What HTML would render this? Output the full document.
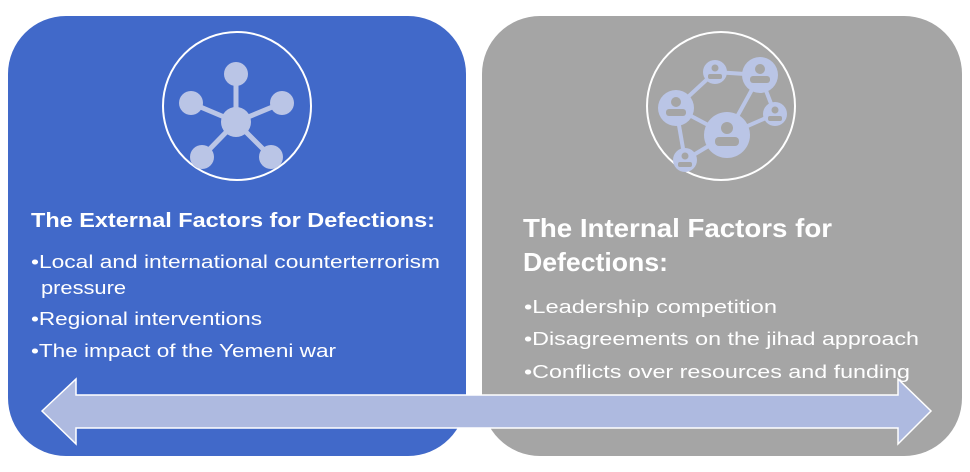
<!DOCTYPE html>
<html><head><style>body{margin:0;background:#fff}svg{display:block}</style></head><body>
<svg width="970" height="472" viewBox="0 0 970 472" xmlns="http://www.w3.org/2000/svg" font-family="Liberation Sans, sans-serif">
<rect x="8" y="16" width="458" height="440" rx="58" fill="#4169C9"/>
<rect x="482" y="16" width="480" height="440" rx="58" fill="#A5A5A5"/>
<circle cx="237" cy="106" r="74" fill="none" stroke="#fff" stroke-width="2"/>
<g fill="#BAC5E6" stroke="#BAC5E6" stroke-width="5">
<line x1="236" y1="122" x2="236" y2="74"/><line x1="236" y1="122" x2="191" y2="103"/><line x1="236" y1="122" x2="282" y2="103"/><line x1="236" y1="122" x2="202" y2="157"/><line x1="236" y1="122" x2="271" y2="157"/>
<circle cx="236" cy="122" r="15" stroke="none"/><circle cx="236" cy="74" r="12" stroke="none"/><circle cx="191" cy="103" r="12" stroke="none"/><circle cx="282" cy="103" r="12" stroke="none"/><circle cx="202" cy="157" r="12" stroke="none"/><circle cx="271" cy="157" r="12" stroke="none"/>
</g>
<circle cx="721" cy="106" r="74" fill="none" stroke="#fff" stroke-width="2"/>
<g fill="#BAC5E6" stroke="#BAC5E6" stroke-width="4">
<line x1="676" y1="108" x2="715" y2="72"/><line x1="715" y1="72" x2="760" y2="75"/><line x1="760" y1="75" x2="727" y2="135"/><line x1="760" y1="75" x2="775" y2="114"/><line x1="676" y1="108" x2="727" y2="135"/><line x1="676" y1="108" x2="685" y2="160"/><line x1="685" y1="160" x2="727" y2="135"/><line x1="727" y1="135" x2="775" y2="114"/>
<circle cx="676" cy="108" r="18" stroke="none"/><circle cx="715" cy="72" r="12" stroke="none"/><circle cx="760" cy="75" r="18" stroke="none"/><circle cx="775" cy="114" r="12" stroke="none"/><circle cx="727" cy="135" r="23" stroke="none"/><circle cx="685" cy="160" r="12" stroke="none"/>
</g>
<g fill="#A5A5A5">
<circle cx="676" cy="102" r="5"/><rect x="666" y="109" width="20" height="7" rx="3"/>
<circle cx="760" cy="69" r="5"/><rect x="750" y="76" width="20" height="7" rx="3"/>
<circle cx="727" cy="128" r="6"/><rect x="715" y="137" width="24" height="9" rx="4"/>
<circle cx="715" cy="68" r="3.5"/><rect x="708" y="74" width="14" height="5" rx="2"/>
<circle cx="775" cy="110" r="3.5"/><rect x="768" y="116" width="14" height="5" rx="2"/>
<circle cx="685" cy="156" r="3.5"/><rect x="678" y="162" width="14" height="5" rx="2"/>
</g>
<g fill="#fff">
<text x="31" y="227" font-size="20" font-weight="bold" textLength="404" lengthAdjust="spacingAndGlyphs">The External Factors for Defections:</text>
<text x="31" y="268" font-size="18" textLength="409" lengthAdjust="spacingAndGlyphs">•Local and international counterterrorism</text>
<text x="41" y="294" font-size="18" textLength="85" lengthAdjust="spacingAndGlyphs">pressure</text>
<text x="31" y="325" font-size="18" textLength="231" lengthAdjust="spacingAndGlyphs">•Regional interventions</text>
<text x="31" y="357" font-size="18" textLength="305" lengthAdjust="spacingAndGlyphs">•The impact of the Yemeni war</text>
<text x="523" y="237" font-size="26" font-weight="bold" textLength="309" lengthAdjust="spacingAndGlyphs">The Internal Factors for</text>
<text x="523" y="271" font-size="26" font-weight="bold" textLength="145" lengthAdjust="spacingAndGlyphs">Defections:</text>
<text x="524" y="313" font-size="18" textLength="253" lengthAdjust="spacingAndGlyphs">•Leadership competition</text>
<text x="524" y="345" font-size="18" textLength="395" lengthAdjust="spacingAndGlyphs">•Disagreements on the jihad approach</text>
<text x="524" y="378" font-size="18" textLength="386" lengthAdjust="spacingAndGlyphs">•Conflicts over resources and funding</text>
</g>
<polygon points="42,411 76,379 76,395 898,395 898,379 931,411 898,444 898,428 76,428 76,444" fill="#AEBAE0" stroke="#fff" stroke-width="1.5"/>
</svg>
</body></html>
